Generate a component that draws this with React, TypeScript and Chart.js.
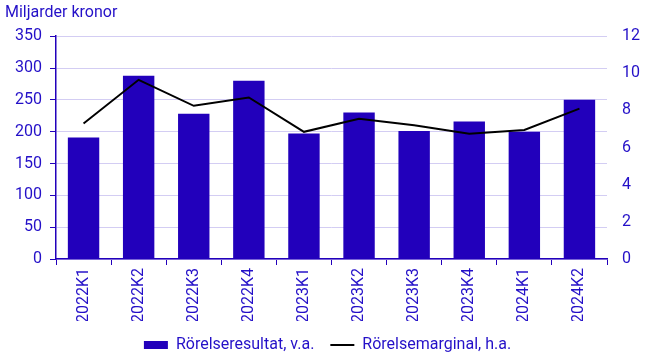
import React, { useEffect, useRef } from "react";
import { Chart, registerables } from "chart.js";

Chart.register(...registerables);

const categories = ["2022K1", "2022K2", "2022K3", "2022K4", "2023K1", "2023K2", "2023K3", "2023K4", "2024K1", "2024K2"];
const rorelseresultat = [191, 288, 228, 280, 197, 230, 201, 216, 200, 250];
const rorelsemarginal = [7.3, 9.65, 8.25, 8.7, 6.85, 7.55, 7.2, 6.75, 6.95, 8.1];
const titleText = "Miljarder kronor";
const barLabel = "Rörelseresultat, v.a.";
const lineLabel = "Rörelsemarginal, h.a.";

const BLUE = "#2200BB";
const TEXT = "#2410C8";
const GRID = "#D3CDF3";
const FONT = "Roboto, 'Liberation Sans', sans-serif";

export default function App() {
  const ref = useRef<HTMLCanvasElement | null>(null);
  useEffect(() => {
    if (!ref.current) return;
    const chart = new Chart(ref.current, {
      type: "bar",
      data: {
        labels: categories,
        datasets: [
          {
            type: "bar",
            label: barLabel,
            data: rorelseresultat,
            backgroundColor: BLUE,
            borderWidth: 0,
            barPercentage: 0.57,
            categoryPercentage: 1,
            yAxisID: "y",
            order: 1,
            pointStyle: "rect",
          },
          {
            type: "line",
            label: lineLabel,
            data: rorelsemarginal,
            borderColor: "#000000",
            backgroundColor: "#000000",
            borderWidth: 2,
            pointRadius: 0,
            tension: 0,
            yAxisID: "y1",
            order: 0,
            pointStyle: "line",
          },
        ],
      },
      options: {
        animation: false,
        responsive: false,
        maintainAspectRatio: false,
        layout: { padding: { left: 5, right: 0, top: 0, bottom: 0 } },
        plugins: {
          tooltip: { enabled: false },
          title: {
            display: true,
            text: titleText,
            align: "start",
            color: TEXT,
            font: { family: FONT, size: 16, weight: "normal" },
            padding: { top: 3, bottom: 14 },
          },
          legend: {
            position: "bottom",
            labels: {
              color: TEXT,
              font: { family: FONT, size: 16 },
              usePointStyle: true,
              boxHeight: 8,
              pointStyleWidth: 24,
              padding: 16,
              sort: (a: any, b: any) => a.datasetIndex - b.datasetIndex,
            },
          },
        },
        scales: {
          x: {
            offset: true,
            grid: { display: true, drawOnChartArea: false, offset: true, tickLength: 6, color: BLUE, tickColor: BLUE },
            border: { display: true, color: BLUE, width: 1.5 },
            ticks: {
              color: TEXT,
              font: { family: FONT, size: 16 },
              maxRotation: 90,
              minRotation: 90,
              padding: 3,
              autoSkip: false,
            },
            afterFit: (s: any) => { s.height = 62; },
          },
          y: {
            position: "left",
            min: 0,
            max: 350,
            ticks: { stepSize: 50, color: TEXT, font: { family: FONT, size: 16 }, padding: 8 },
            grid: { color: GRID, tickColor: BLUE, tickLength: 6 },
            border: { display: true, color: BLUE, width: 1.5 },
            afterFit: (s: any) => { s.width = 51; },
          },
          y1: {
            position: "right",
            min: 0,
            max: 12,
            ticks: { stepSize: 2, color: TEXT, font: { family: FONT, size: 16 }, padding: 15 },
            grid: { drawOnChartArea: false, drawTicks: false },
            border: { display: false },
            afterFit: (s: any) => { s.width = 43; },
          },
        },
      },
    });
    return () => chart.destroy();
  }, []);
  return (
    <div style={{ position: "fixed", left: 0, top: 0, width: 650, height: 363, background: "#fff" }}>
      <canvas ref={ref} width={650} height={363} style={{ width: 650, height: 363, display: "block" }} />
    </div>
  );
}
